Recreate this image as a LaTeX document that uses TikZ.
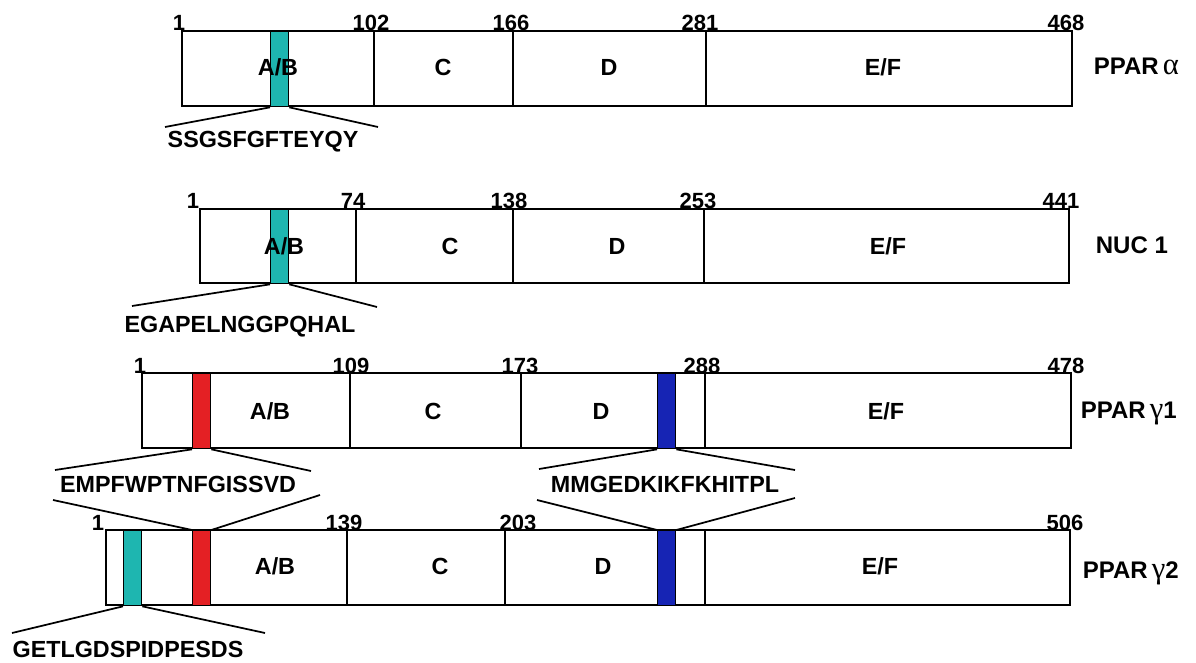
\documentclass[tikz,border=0pt]{standalone}
\usepackage{fontspec}
\setmainfont{Liberation Sans}
\newfontfamily\greekfont{Liberation Serif}
\newcommand\grk[1]{{\greekfont\mdseries\fontsize{23}{24}\selectfont #1}}
\definecolor{motifcyan}{RGB}{30,182,176}
\definecolor{motifred}{RGB}{228,32,36}
\definecolor{motifblue}{RGB}{22,36,180}

\begin{document}
\begin{tikzpicture}[x=0.75pt,y=-0.75pt,line width=1.3pt,
    dom/.style={anchor=base,inner sep=0pt,font=\fontsize{17.5}{20}\selectfont\bfseries},
    resnum/.style={anchor=base,inner sep=0pt,font=\fontsize{16.5}{18}\selectfont\bfseries},
    seq/.style={anchor=base,inner sep=0pt,font=\fontsize{17.5}{20}\selectfont\bfseries},
    prot/.style={anchor=base west,inner sep=0pt,font=\fontsize{18}{20}\selectfont\bfseries},
    bar/.style={draw,line width=1pt,anchor=north west,inner sep=0pt,
        minimum width=13.5pt,minimum height=56.25pt}]
    \useasboundingbox (0,0) rectangle (1196,663);

    % PPAR alpha
    \draw (182,31) rectangle (1072,106);
    \foreach \x in {374,513,706} \draw (\x,31) -- (\x,106);
    \node[bar,fill=motifcyan] (cyan1) at (270,31) {};
    \node[resnum] (p1a) at (179,31) {1};
    \node[resnum] (p1b) at (371,31) {102};
    \node[resnum] (p1c) at (511,31) {166};
    \node[resnum] (p1d) at (700,31) {281};
    \node[resnum] (p1e) at (1066,31) {468};
    \node[dom] (ab1) at (278,76) {A/B};
    \node[dom] (c1) at (443,76) {C};
    \node[dom] (d1) at (609,76) {D};
    \node[dom] (ef1) at (883,76) {E/F};
    \node[prot] (alpha) at (1093,75) {PPAR\,\grk{α}};
    \coordinate (s1l) at (165,127);
    \coordinate (s1r) at (378,127);
    \draw (s1l) -- (cyan1.south west);
    \draw (cyan1.south east) -- (s1r);
    \node[seq] (seq1) at (263,148) {SSGSFGFTEYQY};

    % NUC 1
    \draw (200,209) rectangle (1069,283);
    \foreach \x in {356,513,704} \draw (\x,209) -- (\x,283);
    \node[bar,fill=motifcyan,minimum height=55.5pt] (cyan2) at (270,209) {};
    \node[resnum] (p2a) at (193,209) {1};
    \node[resnum] (p2b) at (353,209) {74};
    \node[resnum] (p2c) at (509,209) {138};
    \node[resnum] (p2d) at (698,209) {253};
    \node[resnum] (p2e) at (1061,209) {441};
    \node[dom] (ab2) at (284,254) {A/B};
    \node[dom] (c2) at (450,254) {C};
    \node[dom] (d2) at (617,254) {D};
    \node[dom] (ef2) at (888,254) {E/F};
    \node[prot] (nuc) at (1095,253) {NUC 1};
    \coordinate (s2l) at (132,306);
    \coordinate (s2r) at (377,307);
    \draw (s2l) -- (cyan2.south west);
    \draw (cyan2.south east) -- (s2r);
    \node[seq] (seq2) at (240,332) {EGAPELNGGPQHAL};

    % PPAR gamma1
    \draw (142,373) rectangle (1071,448);
    \foreach \x in {350,521,705} \draw (\x,373) -- (\x,448);
    \node[bar,fill=motifred] (red3) at (192,373) {};
    \node[bar,fill=motifblue] (blue3) at (657,373) {};
    \node[resnum] (p3a) at (140,373) {1};
    \node[resnum] (p3b) at (351,373) {109};
    \node[resnum] (p3c) at (520,373) {173};
    \node[resnum] (p3d) at (702,373) {288};
    \node[resnum] (p3e) at (1066,373) {478};
    \node[dom] (ab3) at (270,419) {A/B};
    \node[dom] (c3) at (433,419) {C};
    \node[dom] (d3) at (601,419) {D};
    \node[dom] (ef3) at (886,419) {E/F};
    \node[prot] (gamma1) at (1080,418) {PPAR\,\grk{γ}1};
    \coordinate (s3l) at (55,470);
    \coordinate (s3r) at (311,471);
    \coordinate (t3l) at (539,469);
    \coordinate (t3r) at (795,470);
    \draw (s3l) -- (red3.south west);
    \draw (red3.south east) -- (s3r);
    \draw (t3l) -- (blue3.south west);
    \draw (blue3.south east) -- (t3r);
    \node[seq] (seq3) at (178,492) {EMPFWPTNFGISSVD};
    \node[seq] (seq4) at (665,492) {MMGEDKIKFKHITPL};

    % PPAR gamma2
    \draw (106,530) rectangle (1070,605);
    \foreach \x in {347,505,705} \draw (\x,530) -- (\x,605);
    \node[bar,fill=motifcyan] (cyan4) at (123,530) {};
    \node[bar,fill=motifred] (red4) at (192,530) {};
    \node[bar,fill=motifblue] (blue4) at (657,530) {};
    \node[resnum] (p4a) at (98,530) {1};
    \node[resnum] (p4b) at (344,530) {139};
    \node[resnum] (p4c) at (518,530) {203};
    \node[resnum] (p4d) at (1065,530) {506};
    \node[dom] (ab4) at (275,574) {A/B};
    \node[dom] (c4) at (440,574) {C};
    \node[dom] (d4) at (603,574) {D};
    \node[dom] (ef4) at (880,574) {E/F};
    \node[prot] (gamma2) at (1082,578) {PPAR\,\grk{γ}2};
    \coordinate (u4l) at (53,500);
    \coordinate (u4r) at (320,495);
    \coordinate (v4l) at (537,500);
    \coordinate (v4r) at (795,498);
    \draw (u4l) -- (red4.north west);
    \draw (u4r) -- (red4.north east);
    \draw (v4l) -- (blue4.north west);
    \draw (v4r) -- (blue4.north east);
    \coordinate (s4l) at (12,633);
    \coordinate (s4r) at (265,633);
    \draw (s4l) -- (cyan4.south west);
    \draw (cyan4.south east) -- (s4r);
    \node[seq] (seq5) at (128,657) {GETLGDSPIDPESDS};
\end{tikzpicture}
\end{document}
